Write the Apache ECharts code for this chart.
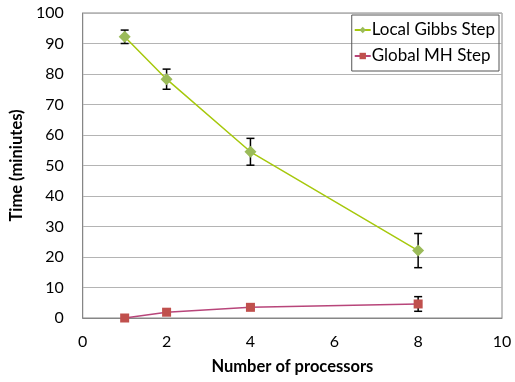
<!DOCTYPE html>
<html><head><meta charset="utf-8">
<script src="https://cdn.jsdelivr.net/npm/echarts@6/dist/echarts.min.js"></script>
<style>html,body{margin:0;padding:0;background:#fff}#c{width:515px;height:382px}</style>
</head><body><div id="c"></div>
<script>
const processors = [1, 2, 4, 8];
const gibbsTime = [92.2, 78.3, 54.5, 22.1];
const gibbsErr = [2.2, 3.3, 4.4, 5.6];
const mhTime = [0, 1.9, 3.5, 4.6];
const mhErr = [0, 0, 0.6, 2.4];
const xTicks = [0, 2, 4, 6, 8, 10];
const yTicks = [0, 10, 20, 30, 40, 50, 60, 70, 80, 90, 100];

const FONT = 'Lato';
const chart = echarts.init(document.getElementById('c'), null, {renderer: 'canvas'});

function pairs(xs, ys) { return xs.map((x, i) => [x, ys[i]]); }
function errData(xs, ys, es) { return xs.map((x, i) => [x, ys[i], es[i]]); }

function errRender(params, api) {
  const x = api.value(0), y = api.value(1), e = api.value(2);
  if (!e) return null;
  const top = api.coord([x, y + e]);
  const bot = api.coord([x, y - e]);
  const cap = 4;
  const style = {stroke: '#000', lineWidth: 1.5};
  return {
    type: 'group',
    children: [
      {type: 'line', shape: {x1: top[0], y1: top[1], x2: bot[0], y2: bot[1]}, style},
      {type: 'line', shape: {x1: top[0] - cap, y1: top[1], x2: top[0] + cap, y2: top[1]}, style},
      {type: 'line', shape: {x1: bot[0] - cap, y1: bot[1], x2: bot[0] + cap, y2: bot[1]}, style}
    ]
  };
}

chart.setOption({
  animation: false,
  backgroundColor: '#fff',
  textStyle: {fontFamily: FONT},
  grid: {left: 81, right: 13, top: 13, bottom: 64, show: true, borderColor: '#868686', borderWidth: 1},
  legend: {
    orient: 'vertical', right: 16, top: 15,
    data: ['Local Gibbs Step', 'Global MH Step'],
    borderColor: '#555', borderWidth: 1, padding: [5, 4, 5, 2],
    itemGap: 6, itemWidth: 16, itemHeight: 8,
    textStyle: {fontFamily: FONT, fontSize: 17, color: '#000', lineHeight: 20, padding: [0, 0, 0, -4]}
  },
  xAxis: {
    type: 'value', min: xTicks[0], max: xTicks[xTicks.length - 1], interval: 2,
    name: 'Number of processors', nameLocation: 'middle', nameGap: 40,
    nameTextStyle: {fontFamily: FONT, fontWeight: 'bold', fontSize: 16.5, color: '#000'},
    axisLine: {show: true, lineStyle: {color: '#868686'}},
    axisTick: {show: false},
    axisLabel: {fontFamily: FONT, fontSize: 16, color: '#000', margin: 16},
    splitLine: {show: false}
  },
  yAxis: {
    type: 'value', min: yTicks[0], max: yTicks[yTicks.length - 1], interval: 10,
    name: 'Time (miniutes)', nameLocation: 'middle', nameGap: 52, nameRotate: 90,
    nameTextStyle: {fontFamily: FONT, fontWeight: 'bold', fontSize: 16.5, color: '#000'},
    axisLine: {show: true, lineStyle: {color: '#868686'}},
    axisTick: {show: false},
    axisLabel: {fontFamily: FONT, fontSize: 16, color: '#000', margin: 19},
    splitLine: {show: true, lineStyle: {color: '#b4b4b4', width: 1}}
  },
  series: [
    {
      name: 'Local Gibbs Step', type: 'line', data: pairs(processors, gibbsTime),
      symbol: 'diamond', symbolSize: 12,
      lineStyle: {color: '#a6c80c', width: 1.5},
      itemStyle: {color: '#9bbb59'}, z: 3
    },
    {
      name: 'Global MH Step', type: 'line', data: pairs(processors, mhTime),
      symbol: 'rect', symbolSize: 9,
      lineStyle: {color: '#b8457a', width: 1.5},
      itemStyle: {color: '#c0504d'}, z: 3
    },
    {
      type: 'custom', renderItem: errRender, data: errData(processors, gibbsTime, gibbsErr),
      encode: {x: 0, y: 1}, z: 2, silent: true
    },
    {
      type: 'custom', renderItem: errRender, data: errData(processors, mhTime, mhErr),
      encode: {x: 0, y: 1}, z: 2, silent: true
    }
  ]
});
</script></body></html>
